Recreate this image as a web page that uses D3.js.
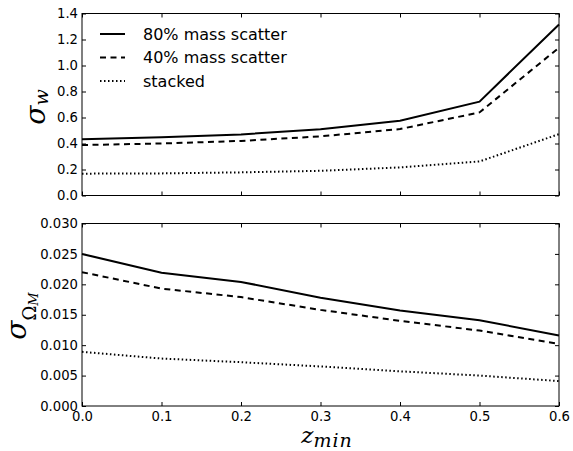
<!DOCTYPE html>
<html><head><meta charset="utf-8">
<script src="https://cdn.jsdelivr.net/npm/d3@7"></script>
<style>body{margin:0;background:#fff}svg{display:block}</style>
</head><body>
<script>
const zmin = [0.0, 0.1, 0.2, 0.3, 0.4, 0.5, 0.6];
const sigmaW80 = [0.432, 0.448, 0.470, 0.510, 0.575, 0.722, 1.316];
const sigmaW40 = [0.388, 0.400, 0.420, 0.455, 0.511, 0.639, 1.137];
const sigmaWStacked = [0.168, 0.170, 0.178, 0.190, 0.216, 0.262, 0.472];
const sigmaOm80 = [0.0250, 0.0219, 0.0204, 0.0178, 0.0157, 0.0141, 0.0116];
const sigmaOm40 = [0.0220, 0.0193, 0.0179, 0.0158, 0.0140, 0.0124, 0.0102];
const sigmaOmStacked = [0.0089, 0.0078, 0.0072, 0.0065, 0.0057, 0.0050, 0.0041];
const xTicks = [0.0, 0.1, 0.2, 0.3, 0.4, 0.5, 0.6];
const yTicksTop = [0.0, 0.2, 0.4, 0.6, 0.8, 1.0, 1.2, 1.4];
const yTicksBottom = [0.000, 0.005, 0.010, 0.015, 0.020, 0.025, 0.030];
const seriesNames = ["80% mass scatter", "40% mass scatter", "stacked"];
const dashes = [null, "6,4.5", "1.5,2.5"];

const W = 573, H = 451;
const svg = d3.select("body").append("svg").attr("width", W).attr("height", H);
const L = 82, R = 559;
const x = d3.scaleLinear().domain([0, 0.6]).range([L, R]);

function panel(top, bottom, yDomain, yTicks, fmt, series, showX) {
  const y = d3.scaleLinear().domain(yDomain).range([bottom, top]);
  const g = svg.append("g");
  const tl = 4;
  g.append("g").attr("transform", `translate(0,${bottom})`)
    .call(d3.axisBottom(x).tickValues(xTicks).tickSizeInner(-tl).tickSizeOuter(0).tickPadding(6).tickFormat(showX ? d3.format(".1f") : () => ""))
    .call(s => s.select(".domain").remove());
  g.append("g").attr("transform", `translate(0,${top})`)
    .call(d3.axisTop(x).tickValues(xTicks).tickSizeInner(-tl).tickSizeOuter(0).tickFormat(() => ""))
    .call(s => s.select(".domain").remove());
  g.append("g").attr("transform", `translate(${L},0)`)
    .call(d3.axisLeft(y).tickValues(yTicks).tickSizeInner(-tl).tickSizeOuter(0).tickPadding(4).tickFormat(fmt))
    .call(s => s.select(".domain").remove());
  g.append("g").attr("transform", `translate(${R},0)`)
    .call(d3.axisRight(y).tickValues(yTicks).tickSizeInner(-tl).tickSizeOuter(0).tickFormat(() => ""))
    .call(s => s.select(".domain").remove());
  g.selectAll(".tick line").attr("stroke", "#000").attr("stroke-width", 1);
  g.selectAll(".tick text").attr("font-family", "DejaVu Sans").attr("font-size", 13.2).attr("fill", "#000");
  const line = d3.line().x((d, i) => x(zmin[i])).y(d => y(d));
  series.forEach((s, i) => {
    g.append("path").datum(s).attr("d", line).attr("fill", "none")
      .attr("stroke", "#000").attr("stroke-width", 2)
      .attr("stroke-dasharray", dashes[i]);
  });
  g.append("rect").attr("x", L).attr("y", top).attr("width", R - L).attr("height", bottom - top)
    .attr("fill", "none").attr("stroke", "#000").attr("stroke-width", 1);
  return y;
}

panel(13.5, 195.5, [0, 1.4], yTicksTop, d3.format(".1f"), [sigmaW80, sigmaW40, sigmaWStacked], false);
panel(223.5, 406, [0, 0.03], yTicksBottom, d3.format(".3f"), [sigmaOm80, sigmaOm40, sigmaOmStacked], true);

// legend
seriesNames.forEach((n, i) => {
  const yy = 34 + i * 23.5;
  svg.append("line").attr("x1", 100).attr("x2", 125).attr("y1", yy).attr("y2", yy)
    .attr("stroke", "#000").attr("stroke-width", 2).attr("stroke-dasharray", dashes[i]);
  svg.append("text").attr("x", 143).attr("y", yy + 5.8).text(n)
    .attr("font-family", "DejaVu Sans").attr("font-size", 16).attr("fill", "#000");
});

// y labels
const lab1 = svg.append("text").attr("transform", "translate(45,107) rotate(-90)")
  .attr("text-anchor", "middle").attr("font-family", "DejaVu Serif").attr("font-style", "italic").attr("fill", "#000");
lab1.append("tspan").attr("font-size", 28).text("σ");
lab1.append("tspan").attr("font-size", 19).attr("dy", 2.5).text("w");

const lab2 = svg.append("text").attr("transform", "translate(26,316) rotate(-90)")
  .attr("text-anchor", "middle").attr("font-family", "DejaVu Serif").attr("font-style", "italic").attr("fill", "#000");
lab2.append("tspan").attr("font-size", 28).text("σ");
lab2.append("tspan").attr("font-size", 18).attr("dy", 10).attr("font-style", "normal").text("Ω");
lab2.append("tspan").attr("font-size", 13).attr("dy", 2).text("M");

// x label
const xl = svg.append("text").attr("x", 327).attr("y", 443).attr("text-anchor", "middle")
  .attr("font-family", "DejaVu Serif").attr("font-style", "italic").attr("fill", "#000");
xl.append("tspan").attr("font-size", 23).text("z");
xl.append("tspan").attr("font-size", 19).attr("dy", 4).attr("letter-spacing", 1).text("min");
</script>
</body></html>
